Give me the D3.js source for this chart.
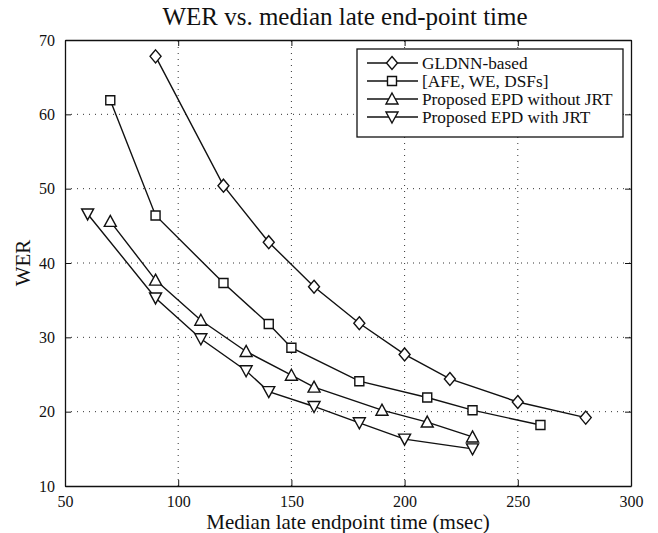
<!DOCTYPE html>
<html>
<head>
<meta charset="utf-8">
<script src="https://cdn.jsdelivr.net/npm/d3@7"></script>
<style>
  body { margin: 0; background: #fff; }
  svg { display: block; font-family: "Liberation Serif", "Times New Roman", serif; }
</style>
</head>
<body>
<svg id="chart" width="658" height="533"></svg>
<script>
// values
const gldnnX = [90, 120, 140, 160, 180, 200, 220, 250, 280];
const gldnnY = [67.8, 50.4, 42.8, 36.8, 31.9, 27.7, 24.4, 21.3, 19.2];
const afeX = [70, 90, 120, 140, 150, 180, 210, 230, 260];
const afeY = [61.9, 46.4, 37.3, 31.8, 28.6, 24.1, 21.9, 20.2, 18.2];
const noJrtX = [70, 90, 110, 130, 150, 160, 190, 210, 230];
const noJrtY = [45.6, 37.7, 32.3, 28.1, 24.9, 23.3, 20.2, 18.6, 16.6];
const jrtX = [60, 90, 110, 130, 140, 160, 180, 200, 230];
const jrtY = [46.6, 35.3, 29.8, 25.5, 22.7, 20.7, 18.5, 16.3, 15.0];

const seriesNames = ["GLDNN-based", "[AFE, WE, DSFs]", "Proposed EPD without JRT", "Proposed EPD with JRT"];
const xTicks = [50, 100, 150, 200, 250, 300];
const yTicks = [10, 20, 30, 40, 50, 60, 70];

const series = [
  {name: seriesNames[0], xs: gldnnX, ys: gldnnY, marker: "diamond"},
  {name: seriesNames[1], xs: afeX, ys: afeY, marker: "square"},
  {name: seriesNames[2], xs: noJrtX, ys: noJrtY, marker: "up"},
  {name: seriesNames[3], xs: jrtX, ys: jrtY, marker: "down"}
];

const margin = {left: 65, right: 27, top: 40, bottom: 47};
const width = 658, height = 533;

const svg = d3.select("#chart");

const x = d3.scaleLinear().domain([50, 300]).range([margin.left, width - margin.right]);
const y = d3.scaleLinear().domain([10, 70]).range([height - margin.bottom, margin.top]);

// dotted grid
const grid = svg.append("g").attr("stroke", "#333").attr("stroke-width", 1)
  .attr("stroke-dasharray", "1,5");
grid.selectAll("line.gx")
  .data(xTicks.slice(1, -1))
  .join("line")
  .attr("x1", d => x(d)).attr("x2", d => x(d))
  .attr("y1", y(10)).attr("y2", y(70));
grid.selectAll("line.gy")
  .data(yTicks.slice(1, -1))
  .join("line")
  .attr("x1", x(50)).attr("x2", x(300))
  .attr("y1", d => y(d)).attr("y2", d => y(d));

// axes with inward ticks
const tickLen = 6;
const xAxis = svg.append("g")
  .attr("transform", `translate(0,${y(10)})`)
  .call(d3.axisBottom(x).tickValues(xTicks).tickSizeInner(-tickLen).tickSizeOuter(0).tickPadding(10));
const xAxisTop = svg.append("g")
  .attr("transform", `translate(0,${y(70)})`)
  .call(d3.axisTop(x).tickValues(xTicks).tickSizeInner(-tickLen).tickSizeOuter(0).tickFormat(""));
const yAxis = svg.append("g")
  .attr("transform", `translate(${x(50)},0)`)
  .call(d3.axisLeft(y).tickValues(yTicks).tickSizeInner(-tickLen).tickSizeOuter(0).tickPadding(10));
const yAxisRight = svg.append("g")
  .attr("transform", `translate(${x(300)},0)`)
  .call(d3.axisRight(y).tickValues(yTicks).tickSizeInner(-tickLen).tickSizeOuter(0).tickFormat(""));

[xAxis, xAxisTop, yAxis, yAxisRight].forEach(g => {
  g.select(".domain").attr("stroke", "#111").attr("stroke-width", 1.3);
  g.selectAll(".tick line").attr("stroke", "#111");
  g.selectAll("text").attr("font-family", "Liberation Serif, serif").attr("font-size", 16).attr("fill", "#111");
});

// marker shapes
function markerPath(type) {
  switch (type) {
    case "diamond": return "M0,-6.5L5.5,0L0,6.5L-5.5,0Z";
    case "square": return "M-4.5,-4.5H4.5V4.5H-4.5Z";
    case "up": return "M0,-6L6,5L-6,5Z";
    case "down": return "M0,6L6,-5L-6,-5Z";
  }
}

const line = d3.line().x(d => x(d[0])).y(d => y(d[1]));

series.forEach(s => {
  const pts = s.xs.map((v, i) => [v, s.ys[i]]);
  svg.append("path")
    .datum(pts)
    .attr("fill", "none")
    .attr("stroke", "#111")
    .attr("stroke-width", 1.4)
    .attr("d", line);
  svg.append("g").selectAll("path")
    .data(pts)
    .join("path")
    .attr("transform", d => `translate(${x(d[0])},${y(d[1])})`)
    .attr("d", markerPath(s.marker))
    .attr("fill", "#fff")
    .attr("stroke", "#111")
    .attr("stroke-width", 1.4);
});

// legend
const legend = svg.append("g");
legend.append("rect")
  .attr("x", 357).attr("y", 49).attr("width", 266).attr("height", 88)
  .attr("fill", "#fff").attr("stroke", "#111").attr("stroke-width", 1.3);
const items = legend.selectAll("g.item")
  .data(series)
  .join("g")
  .attr("transform", (d, i) => `translate(0,${63 + i * 18})`);
items.append("line")
  .attr("x1", 367).attr("x2", 418)
  .attr("stroke", "#111").attr("stroke-width", 1.4);
items.append("path")
  .attr("transform", "translate(392,0)")
  .attr("d", d => markerPath(d.marker))
  .attr("fill", "#fff").attr("stroke", "#111").attr("stroke-width", 1.4);
items.append("text")
  .attr("x", 422).attr("dy", "0.35em")
  .attr("font-size", 17.3).attr("fill", "#111")
  .text(d => d.name);

// titles
svg.append("text")
  .attr("x", 345).attr("y", 25)
  .attr("text-anchor", "middle").attr("font-size", 25).attr("fill", "#111")
  .text("WER vs. median late end-point time");
svg.append("text")
  .attr("x", 348).attr("y", 529)
  .attr("text-anchor", "middle").attr("font-size", 21).attr("fill", "#111")
  .text("Median late endpoint time (msec)");
svg.append("text")
  .attr("transform", `translate(30,${(y(10) + y(70)) / 2}) rotate(-90)`)
  .attr("text-anchor", "middle").attr("font-size", 21).attr("fill", "#111")
  .text("WER");
</script>
</body>
</html>
